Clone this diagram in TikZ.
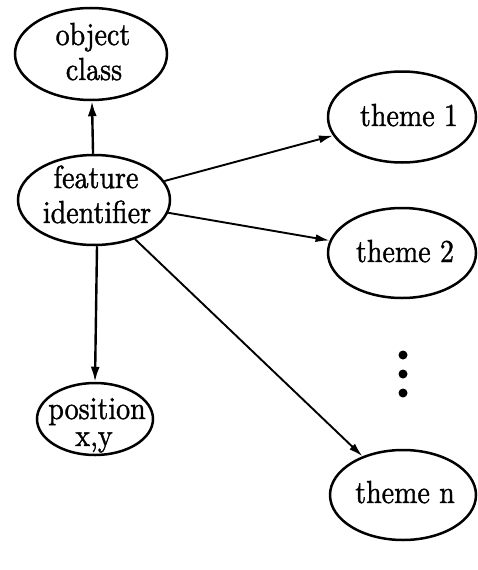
\documentclass[tikz,border=0pt]{standalone}
\usepackage{graphicx}
\usepackage{fontspec}
\usetikzlibrary{shapes.geometric,arrows.meta}
\newfontfamily\bigrmfam{lmroman10-regular.otf}[FakeBold=1.3]
\newcommand{\lbltext}[1]{\scalebox{1}[1.14]{\bigrmfam\fontsize{28}{33}\selectfont #1}}
\tikzset{
  oval/.style={ellipse, draw, line width=2.5pt, inner sep=0pt},
  lbl/.style={inner sep=0pt, anchor=base},
  conn/.style={line width=1.9pt, -{Latex[length=14pt,width=8pt]}},
  vconn/.style={line width=2.4pt, -{Latex[length=15pt,width=9pt]}},
}
\begin{document}
\begin{tikzpicture}[x=1pt,y=-1pt]
\useasboundingbox (0,0) rectangle (477,570);
% ellipses
\node[oval, minimum width=152pt, minimum height=92pt] (obj) at (91,54) {};
\node[oval, minimum width=152pt, minimum height=90pt] (feat) at (94,200) {};
\node[oval, minimum width=116pt, minimum height=72pt] (pos) at (95,419) {};
\node[oval, minimum width=148pt, minimum height=91pt] (t1) at (402,117) {};
\node[oval, minimum width=148pt, minimum height=90pt] (t2) at (402,253) {};
\node[oval, minimum width=146pt, minimum height=90pt] (tn) at (403,495) {};
% labels
\node[lbl] (objA) at (93,45) {\lbltext{object}};
\node[lbl] (objB) at (94,80) {\lbltext{class}};
\node[lbl] (featA) at (96,188) {\lbltext{feature}};
\node[lbl] (featB) at (97,223) {\lbltext{identifier}};
\node[lbl] (posA) at (97,419) {\lbltext{position}};
\node[lbl] (posB) at (94,446) {\lbltext{x,y}};
\node[lbl] (t1l) at (409,126) {\lbltext{theme 1}};
\node[lbl] (t2l) at (405,262) {\lbltext{theme 2}};
\node[lbl] (tnl) at (405,503) {\lbltext{theme n}};
% connectors
\draw[vconn] (feat) -- (obj);
\draw[vconn] (feat.south) ++(3pt,0) coordinate (fs) (fs) -- (pos.north);
\draw[conn] (feat) -- (t1);
\draw[conn] (feat) -- (t2);
\draw[conn] (feat) -- (tn);
% dots
\fill (403,355) circle (4.5pt);
\fill (403,374) circle (4.5pt);
\fill (403,393) circle (4.5pt);
\end{tikzpicture}
\end{document}
